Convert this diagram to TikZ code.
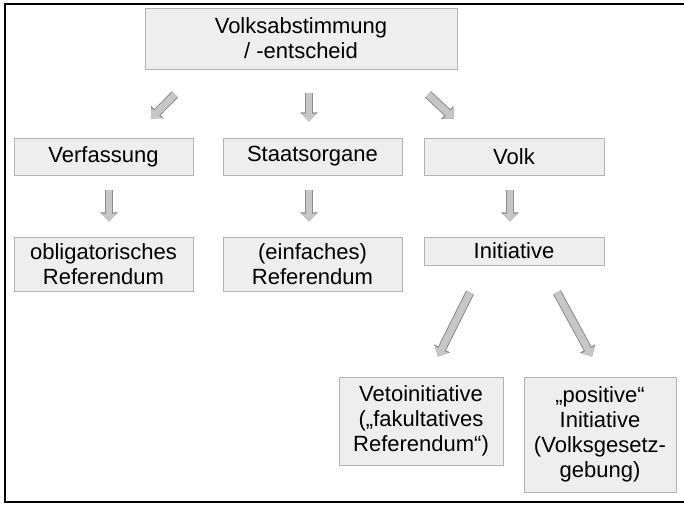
\documentclass[tikz,border=0pt]{standalone}
\usepackage{fontspec}
\setmainfont{Liberation Sans}
\usetikzlibrary{arrows.meta}

\tikzset{
  box/.style={draw=gray!60, fill=gray!13, inner sep=0pt, align=center,
    font=\fontsize{11}{12.5}\selectfont},
  blockarrow/.style={line width=3.4pt, draw=gray!45, -{Triangle[length=4pt,width=7.2pt]},
    preaction={draw=gray!90, line width=4.4pt, -{Triangle[length=4.6pt,width=8.6pt]}}}
}

\begin{document}
\begin{tikzpicture}[x=0.5pt, y=-0.5pt]
            \useasboundingbox (0,0) rectangle (684,504);
            \draw [line width=1pt] (684,3.5) -- (4.5,3.5) -- (4.5,502) -- (684,502);
            % boxes
            \node [box, minimum width=156pt, minimum height=30.5pt] (abst) at (301,38.5) {Volksabstimmung\\/ -entscheid};
            \node [box, minimum width=89.5pt, minimum height=18.5pt] (verf) at (103.5,156.5) {Verfassung};
            \node [box, minimum width=89.5pt, minimum height=18.5pt] (staat) at (312.5,156.5) {Staatsorgane};
            \node [box, minimum width=90pt, minimum height=18.5pt] (volk) at (514,156.5) {Volk};
            \node [box, minimum width=89.5pt, minimum height=27pt] (oblig) at (103.5,264) {obligatorisches\\Referendum};
            \node [box, minimum width=89.5pt, minimum height=27pt] (einf) at (312.5,264) {(einfaches)\\Referendum};
            \node [box, minimum width=90pt, minimum height=14pt] (init) at (514,251) {Initiative};
            \node [box, minimum width=82pt, minimum height=44pt] (veto) at (421,421) {Vetoinitiative\\(„fakultatives\\Referendum“)};
            \node [box, minimum width=76pt, minimum height=57.5pt] (posit) at (600,434.5) {„positive“\\Initiative\\(Volksgesetz-\\gebung)};
            % arrows
            \draw [blockarrow] ([shift={(-126,25)}]abst.south) -- ([shift={(47.5,-19)}]verf.north);
            \draw [blockarrow] ([shift={(8,24)}]abst.south) -- ([shift={(-3.5,-16)}]staat.north);
            \draw [blockarrow] ([shift={(127,25)}]abst.south) -- ([shift={(-60,-19)}]volk.north);
            \draw [blockarrow] ([shift={(5.5,15)}]verf.south) -- ([shift={(5.5,-15)}]oblig.north);
            \draw [blockarrow] ([shift={(-3.5,15)}]staat.south) -- ([shift={(-3.5,-15)}]einf.north);
            \draw [blockarrow] ([shift={(-4,15)}]volk.south) -- ([shift={(-4,-15)}]init.north);
            \draw [blockarrow] ([shift={(-44,27)}]init.south) -- ([shift={(17,-20)}]veto.north);
            \draw [blockarrow] ([shift={(43,27)}]init.south) -- ([shift={(-8,-20)}]posit.north);
        \end{tikzpicture}
\end{document}
